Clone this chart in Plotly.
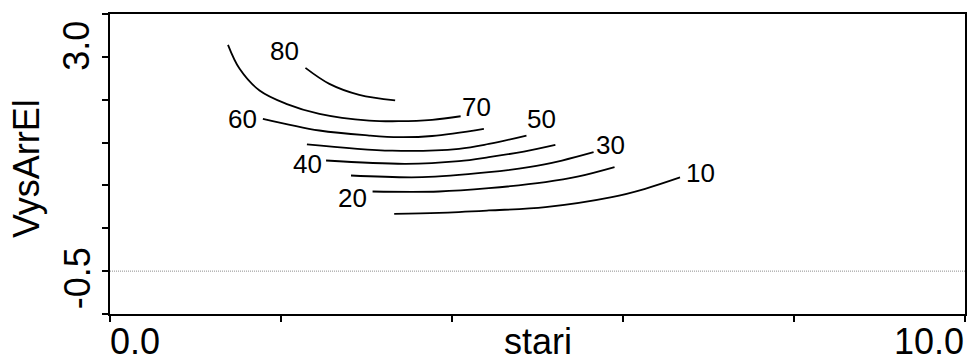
import plotly.graph_objects as go

# Contour levels and the traced (stari, VysArrEl) coordinates of each isoline
levels = [80, 70, 60, 50, 40, 30, 20, 10]

x_80 = [2.286, 2.566, 2.915, 3.335]
y_80 = [2.820, 2.559, 2.380, 2.290]

x_70 = [1.380, 1.516, 1.749, 2.061, 2.449, 3.032, 3.382, 3.767, 4.101]
y_70 = [3.196, 2.804, 2.450, 2.233, 2.070, 1.960, 1.949, 1.972, 2.030]

x_60 = [1.788, 2.449, 3.032, 3.382, 3.767, 4.373]
y_60 = [1.988, 1.797, 1.715, 1.688, 1.707, 1.825]

x_50 = [2.303, 3.300, 4.082, 4.431, 4.871]
y_50 = [1.572, 1.467, 1.498, 1.577, 1.715]

x_40 = [2.527, 3.460, 4.082, 4.431, 4.840, 5.209]
y_40 = [1.307, 1.253, 1.296, 1.361, 1.454, 1.563]

x_30 = [2.819, 3.654, 4.431, 4.898, 5.286, 5.656]
y_30 = [1.062, 1.035, 1.116, 1.198, 1.307, 1.443]

x_20 = [3.071, 3.848, 4.431, 5.093, 5.481, 5.901]
y_20 = [0.801, 0.801, 0.855, 0.953, 1.046, 1.198]

x_10 = [3.324, 3.848, 4.431, 5.093, 5.869, 6.259, 6.667]
y_10 = [0.437, 0.453, 0.491, 0.545, 0.708, 0.845, 1.030]

# Axis extents and ticks
x_range = [0.0, 10.0]
x_ticks = [0, 2, 4, 6, 8, 10]
y_range = [-1.2, 3.7]
y_ticks = [-1.2, -0.5, 0.2, 0.9, 1.6, 2.3, 3.0, 3.7]
x_tick_labels = {0.0: "0.0", 10.0: "10.0"}
y_tick_labels = {3.0: "3.0", -0.5: "-0.5"}
reference_y = -0.5

x_title = "stari"
y_title = "VysArrEl"

lines = {
    80: (x_80, y_80), 70: (x_70, y_70), 60: (x_60, y_60), 50: (x_50, y_50),
    40: (x_40, y_40), 30: (x_30, y_30), 20: (x_20, y_20), 10: (x_10, y_10),
}

# Where each level's label sits: which end of the line, and a pixel offset
label_place = {
    80: ("start", -21, 17),
    70: ("end", 16, 9),
    60: ("start", -20, 0),
    50: ("end", 15, 17),
    40: ("start", -19, -3),
    30: ("end", 17, 7),
    20: ("start", -20, -7),
    10: ("end", 20, 4),
}

FONT = "Liberation Sans, Arial, sans-serif"

fig = go.Figure()

# Dotted reference line
fig.add_trace(go.Scatter(
    x=x_range, y=[reference_y, reference_y], mode="lines",
    line=dict(color="#8c8c8c", width=1, dash="1px,1px"),
    hoverinfo="skip", showlegend=False,
))

annotations = []
for lvl in levels:
    xs, ys = lines[lvl]
    fig.add_trace(go.Scatter(
        x=xs, y=ys, mode="lines",
        line=dict(color="black", width=1.8, shape="spline", smoothing=1.0),
        name=str(lvl), showlegend=False,
    ))
    end, dx, dy = label_place[lvl]
    i = 0 if end == "start" else -1
    annotations.append(dict(
        x=xs[i], y=ys[i], xref="x", yref="y", text=str(lvl), showarrow=False,
        xanchor="center", yanchor="middle", xshift=dx, yshift=dy,
        font=dict(family=FONT, size=26, color="black"),
    ))

# Axis value labels
for v, t in x_tick_labels.items():
    annotations.append(dict(
        x=v, y=0, xref="x", yref="paper", text=t, showarrow=False,
        xanchor="left" if v == x_range[0] else "right", yanchor="middle",
        xshift=-2 if v == x_range[0] else 1, yshift=-27,
        font=dict(family=FONT, size=36, color="black"),
    ))
for v, t in y_tick_labels.items():
    annotations.append(dict(
        x=0, y=v, xref="paper", yref="y", text=t, showarrow=False,
        textangle=-90, xanchor="center", yanchor="middle",
        xshift=-33, yshift=11 if v == 3.0 else -7,
        font=dict(family=FONT, size=36, color="black"),
    ))

# Axis titles
annotations.append(dict(
    x=0.5, y=0, xref="paper", yref="paper", text=x_title, showarrow=False,
    xanchor="center", yanchor="middle", yshift=-27,
    font=dict(family=FONT, size=36, color="black"),
))
annotations.append(dict(
    x=0, y=0.5, xref="paper", yref="paper", text=y_title, showarrow=False,
    textangle=-90, xanchor="center", yanchor="middle", xshift=-84, yshift=-5,
    font=dict(family=FONT, size=36, color="black"),
))

axis_common = dict(
    showgrid=False, zeroline=False, showline=True, linecolor="black",
    linewidth=2, mirror=True, ticks="outside", ticklen=6, tickwidth=1.5,
    tickcolor="black", showticklabels=False,
)

fig.update_layout(
    width=970, height=361,
    margin=dict(l=110, r=3, t=14, b=47),
    paper_bgcolor="white", plot_bgcolor="white",
    xaxis=dict(range=x_range, tickvals=x_ticks, **axis_common),
    yaxis=dict(range=y_range, tickvals=y_ticks, **axis_common),
    annotations=annotations,
    showlegend=False,
)

fig.write_html("out.html", config={"displayModeBar": False})
